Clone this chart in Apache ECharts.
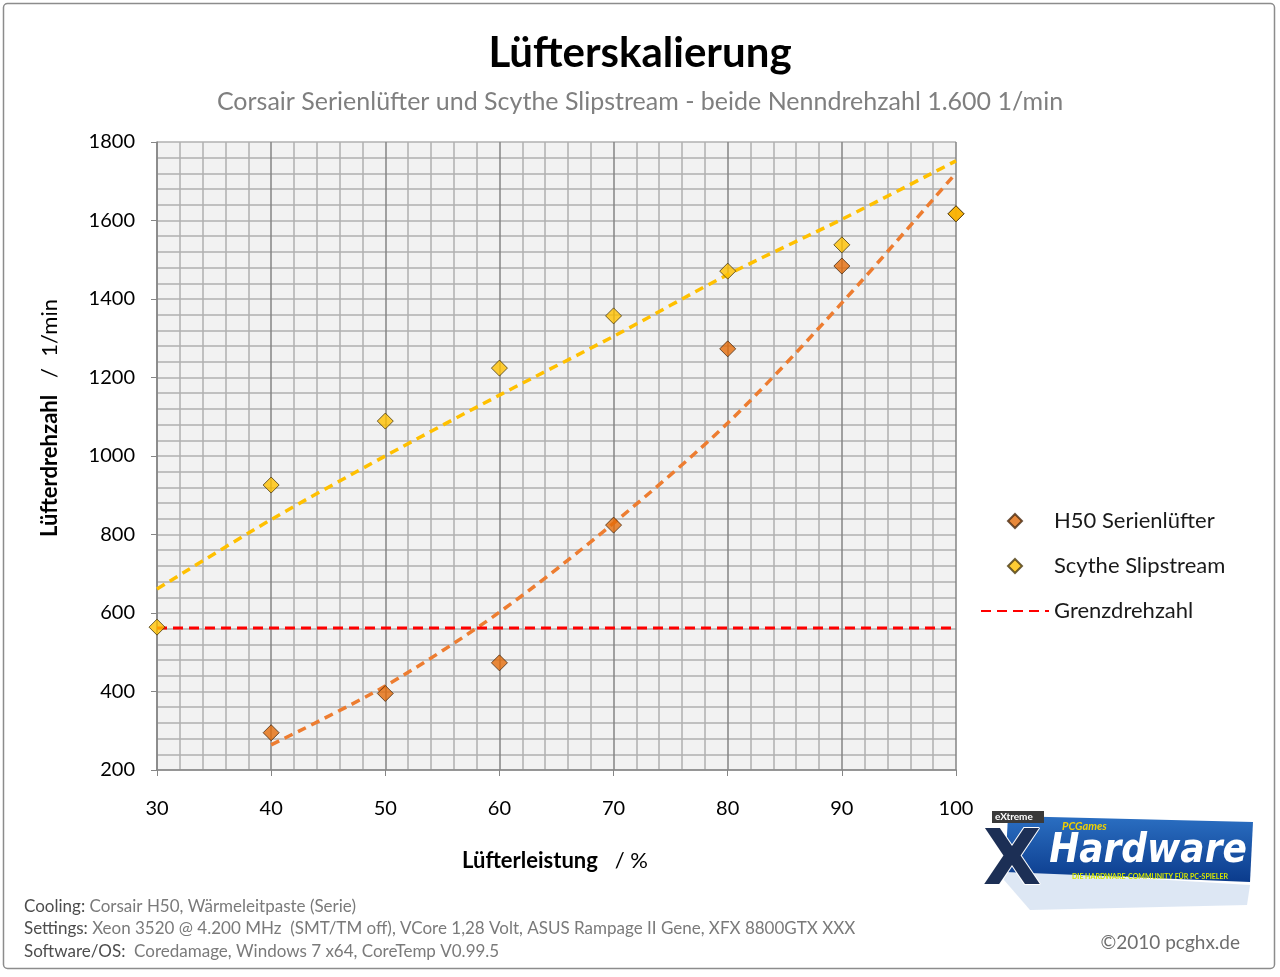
<!DOCTYPE html>
<html>
<head>
<meta charset="utf-8">
<script src="https://cdn.jsdelivr.net/npm/echarts@6/dist/echarts.min.js"></script>
<style>
  html, body { margin: 0; padding: 0; background: #fff; }
  #chart { width: 1280px; height: 977px; }
</style>
</head>
<body>
<div id="chart"></div>
<script>
// Lüfterleistung in %
const power = [30, 40, 50, 60, 70, 80, 90, 100];
// measured fan speeds (1/min), null = not measured
const h50Rpm = [null, 295, 395, 473, 824, 1273, 1484, 1617];
const scytheRpm = [564, 926, 1089, 1224, 1357, 1471, 1538, 1617];
// trend lines
const scytheTrend = [661, 838, 1000, 1155, 1305, 1462, 1603, 1752];
const h50TrendPower = [40, 50, 60, 70, 80, 90, 100];
const h50Trend = [264, 414, 602, 829, 1084, 1390, 1721];
// limit speed
const limitPower = [30, 100];
const limitRpm = [562, 562];

const yTicks = [200, 1800, 200]; // min, max, interval
const xTicks = [30, 100, 10];

const FONT = 'Lato, "Open Sans", sans-serif';
const DIAMOND = 'path://M0,-1L1,0L0,1L-1,0Z';

const pairs = (xs, ys) => xs.map((x, i) => [x, ys[i]]).filter(p => p[1] != null);

const chart = echarts.init(document.getElementById('chart'), null, { renderer: 'canvas' });

const option = {
  backgroundColor: '#ffffff',
  animation: false,
  textStyle: { fontFamily: FONT },
  title: [
    {
      text: 'Lüfterskalierung',
      left: 'center',
      top: 27,
      textStyle: { fontSize: 42, fontWeight: 'bold', color: '#000', fontFamily: FONT }
    },
    {
      text: 'Corsair Serienlüfter und Scythe Slipstream - beide Nenndrehzahl 1.600 1/min',
      left: 'center',
      top: 84,
      textStyle: { fontSize: 25, fontWeight: 'normal', color: '#7f7f7f', fontFamily: FONT }
    }
  ],
  legend: {
    orient: 'vertical',
    left: 980,
    top: 508,
    padding: 0,
    itemWidth: 68,
    itemHeight: 14,
    itemGap: 19,
    symbolKeepAspect: true,
    data: [
      { name: 'H50 Serienlüfter', icon: DIAMOND },
      { name: 'Scythe Slipstream', icon: DIAMOND },
      { name: 'Grenzdrehzahl', itemStyle: { color: 'rgba(0,0,0,0)', borderColor: 'rgba(0,0,0,0)', borderWidth: 0 } }
    ],
    textStyle: { fontSize: 22, color: '#1a1a1a', lineHeight: 26, fontFamily: FONT }
  },
  grid: {
    left: 157,
    top: 142,
    right: 324,
    bottom: 207,
    show: true,
    backgroundColor: '#f2f2f2',
    borderWidth: 0
  },
  xAxis: {
    type: 'value',
    min: xTicks[0],
    max: xTicks[1],
    interval: xTicks[2],
    axisLine: { show: true, lineStyle: { color: '#868686', width: 1.5 } },
    axisTick: { show: true, inside: false, length: 6, lineStyle: { color: '#868686' } },
    axisLabel: { fontSize: 20, color: '#000', margin: 29, fontFamily: FONT },
    splitLine: { show: true, lineStyle: { color: '#858585', width: 1.5 } },
    minorTick: { show: false, splitNumber: 5 },
    minorSplitLine: { show: true, lineStyle: { color: '#b0b0b0', width: 1.5 } }
  },
  yAxis: {
    type: 'value',
    min: yTicks[0],
    max: yTicks[1],
    interval: yTicks[2],
    axisLine: { show: true, lineStyle: { color: '#868686', width: 1.5 } },
    axisTick: { show: true, inside: false, length: 6, lineStyle: { color: '#868686' } },
    axisLabel: { fontSize: 20, color: '#000', margin: 22, fontFamily: FONT, formatter: v => String(v) },
    splitLine: { show: true, lineStyle: { color: '#b0b0b0', width: 1.5 } },
    minorTick: { show: false, splitNumber: 5 },
    minorSplitLine: { show: true, lineStyle: { color: '#b0b0b0', width: 1.5 } }
  },
  series: [
    {
      name: 'Scythe Trend',
      type: 'line',
      smooth: 0.3,
      showSymbol: false,
      silent: true,
      data: pairs(power, scytheTrend),
      lineStyle: { color: '#ffc000', width: 3.5, type: [9, 6] },
      z: 2
    },
    {
      name: 'H50 Trend',
      type: 'line',
      smooth: 0.3,
      showSymbol: false,
      silent: true,
      data: pairs(h50TrendPower, h50Trend),
      lineStyle: { color: '#ed7d31', width: 3.5, type: [9, 6] },
      z: 2
    },
    {
      name: 'Grenzdrehzahl',
      type: 'line',
      symbol: 'none',
      showSymbol: false,
      data: pairs(limitPower, limitRpm),
      itemStyle: { color: '#ff0000' },
      lineStyle: { color: '#ff0000', width: 3, type: [10, 6] },
      z: 3
    },
    {
      name: 'H50 Serienlüfter',
      type: 'scatter',
      symbol: 'diamond',
      symbolSize: 16,
      data: pairs(power, h50Rpm),
      itemStyle: { color: '#e46c0a', borderColor: '#4a2a10', borderWidth: 1 },
      z: 4
    },
    {
      name: 'Scythe Slipstream',
      type: 'scatter',
      symbol: 'diamond',
      symbolSize: 16,
      data: pairs(power, scytheRpm),
      itemStyle: { color: '#ffc000', borderColor: '#4a3a10', borderWidth: 1 },
      z: 5
    }
  ],
  graphic: [
    // outer frame
    {
      type: 'rect',
      shape: { x: 3.5, y: 3.5, width: 1271, height: 965, r: 4 },
      style: { fill: 'none', stroke: '#8c8c8c', lineWidth: 1.5 },
      z: -1
    },
    // axis names
    {
      type: 'text',
      x: 50,
      y: 418,
      rotation: Math.PI / 2,
      style: {
        text: '{b|Lüfterdrehzahl}   /  1/min',
        align: 'center',
        verticalAlign: 'middle',
        fontSize: 22,
        fill: '#000',
        fontFamily: FONT,
        rich: { b: { fontWeight: 'bold', fontSize: 22, fontFamily: FONT } }
      }
    },
    {
      type: 'text',
      x: 555,
      y: 861,
      style: {
        text: '{b|Lüfterleistung}   / %',
        align: 'center',
        verticalAlign: 'middle',
        fontSize: 22,
        fill: '#000',
        fontFamily: FONT,
        rich: { b: { fontWeight: 'bold', fontSize: 22, fontFamily: FONT } }
      }
    },
    // footnote
    {
      type: 'text',
      x: 24,
      y: 895,
      style: {
        text: '{l|Cooling:} Corsair H50, Wärmeleitpaste (Serie)\n' +
              '{l|Settings:} Xeon 3520 @ 4.200 MHz  (SMT/TM off), VCore 1,28 Volt, ASUS Rampage II Gene, XFX 8800GTX XXX\n' +
              '{l|Software/OS:}  Coredamage, Windows 7 x64, CoreTemp V0.99.5',
        fontSize: 17,
        lineHeight: 22.5,
        fill: '#7a7a7a',
        fontFamily: FONT,
        rich: { l: { fontSize: 17, fill: '#4d4d4d', fontFamily: FONT } }
      }
    },
    {
      type: 'text',
      x: 1240,
      y: 943,
      style: {
        text: '©2010 pcghx.de',
        align: 'right',
        verticalAlign: 'middle',
        fontSize: 19,
        fill: '#6e6e6e',
        fontFamily: FONT
      }
    },
    // logo (approximation)
    {
      type: 'group',
      children: [
        {
          type: 'polygon',
          shape: { points: [[1004, 880], [1005, 870], [1250, 885], [1247, 905], [1030, 910]] },
          style: { fill: 'rgba(120,160,210,0.25)' }
        },
        {
          type: 'polygon',
          shape: { points: [[1008, 816], [1253, 822], [1250, 882], [1005, 872]] },
          style: {
            fill: new echarts.graphic.LinearGradient(0, 0, 0, 1, [
              { offset: 0, color: '#2b6fc2' },
              { offset: 1, color: '#0b3b8c' }
            ])
          }
        },
        {
          type: 'text',
          x: 1012,
          y: 864,
          style: {
            text: 'X',
            align: 'center',
            verticalAlign: 'middle',
            fontSize: 76,
            fontWeight: 'bold',
            fill: '#1c2f55',
            stroke: '#ffffff',
            lineWidth: 2,
            fontFamily: 'DejaVu Sans'
          }
        },
        {
          type: 'rect',
          shape: { x: 992, y: 811, width: 52, height: 12 },
          style: { fill: '#3a3a3a' }
        },
        {
          type: 'text',
          x: 995,
          y: 817,
          style: { text: 'eXtreme', verticalAlign: 'middle', fontSize: 10, fontWeight: 'bold', fill: '#ffffff', fontFamily: FONT }
        },
        {
          type: 'text',
          x: 1148,
          y: 852,
          style: {
            text: 'Hardware',
            align: 'center',
            verticalAlign: 'middle',
            fontSize: 40,
            fontWeight: 'bold',
            fontStyle: 'italic',
            fill: '#ffffff',
            fontFamily: '"Liberation Sans Narrow", "DejaVu Sans Condensed", sans-serif'
          }
        },
        {
          type: 'text',
          x: 1062,
          y: 826,
          style: { text: 'PCGames', verticalAlign: 'middle', fontSize: 11, fontWeight: 'bold', fontStyle: 'italic', fill: '#f0d000', fontFamily: FONT }
        },
        {
          type: 'text',
          x: 1150,
          y: 877,
          style: {
            text: 'DIE HARDWARE-COMMUNITY FÜR PC-SPIELER',
            align: 'center',
            verticalAlign: 'middle',
            fontSize: 7,
            fontWeight: 'bold',
            fill: '#d4e600',
            fontFamily: FONT
          }
        }
      ]
    }
  ]
};

chart.setOption(option);
window.addEventListener('resize', () => chart.resize());
</script>
</body>
</html>
